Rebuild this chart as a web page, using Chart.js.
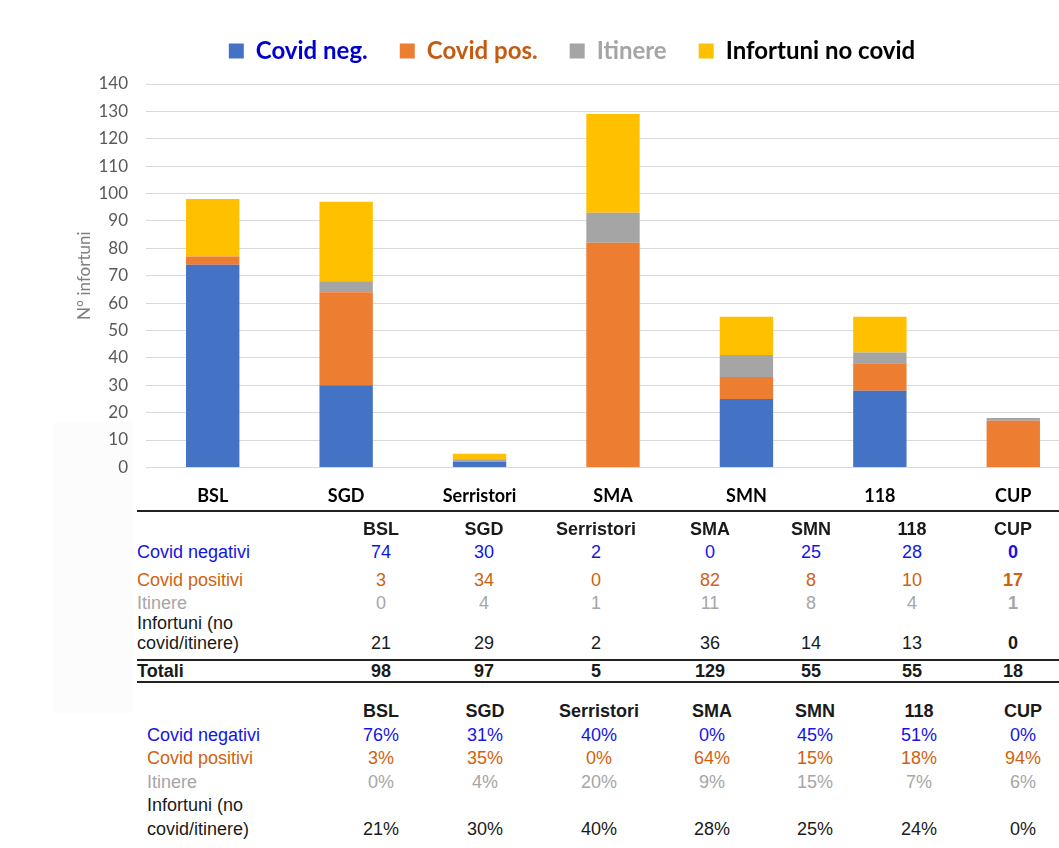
<!DOCTYPE html>
<html><head><meta charset="utf-8">
<script src="https://cdn.jsdelivr.net/npm/chart.js@4/dist/chart.umd.min.js"></script>
<style>
html,body{margin:0;padding:0;background:#fff;overflow:hidden;width:1059px;height:848px;}
#wrap{position:absolute;left:0;top:0;width:1080px;height:525px;}
#shade{position:absolute;left:54px;top:422px;width:79px;height:291px;background:#fcfcfc;}
.t{position:absolute;font-family:"Liberation Sans",Arial,sans-serif;font-size:18px;line-height:20px;white-space:nowrap;}
.c{transform:translateX(-50%);}
.b{font-weight:bold;}
.hl{position:absolute;height:2px;background:#222;}
</style></head>
<body>
<div id="shade"></div>
<div id="wrap"><canvas id="c" width="1080" height="525"></canvas></div>
<div id="tables"></div>
<script>
// ---- data ----
const categories = ['BSL','SGD','Serristori','SMA','SMN','118','CUP'];
const seriesNames = ['Covid neg.','Covid pos.','Itinere','Infortuni no covid'];
const covidNeg  = [74,30,2,0,25,28,0];
const covidPos  = [3,34,0,82,8,10,17];
const itinere   = [0,4,1,11,8,4,1];
const infortuni = [21,29,2,36,14,13,0];
const totali    = [98,97,5,129,55,55,18];
const pctNeg = ['76%','31%','40%','0%','45%','51%','0%'];
const pctPos = ['3%','35%','0%','64%','15%','18%','94%'];
const pctIt  = ['0%','4%','20%','9%','15%','7%','6%'];
const pctInf = ['21%','30%','40%','28%','25%','24%','0%'];
const yAxisTitle = 'N° infortuni';
const rowLabels = ['Covid negativi','Covid positivi','Itinere','Infortuni (no','covid/itinere)','Totali'];

// ---- styles ----
const barColors = ['#4472C4','#ED7D31','#A5A5A5','#FFC000'];
const legendColors = ['#0000CC','#C55A11','#A5A5A5','#000000'];
const tblColors = ['#1414E6','#D0620F','#A6A6A6','#1a1a1a'];

const seriesData = [covidNeg, covidPos, itinere, infortuni];

const legendGap = {
  id: 'legendGap',
  beforeInit(chart) {
    const orig = chart.legend.fit;
    chart.legend.fit = function() { orig.call(this); this.height += 11; };
  }
};

new Chart(document.getElementById('c'), {
  type: 'bar',
  data: {
    labels: categories,
    datasets: seriesData.map((d,i)=>({
      label: seriesNames[i], data: d, backgroundColor: barColors[i],
      borderWidth: 0, categoryPercentage: 1, barPercentage: 0.4, stack: 's'
    }))
  },
  plugins: [legendGap],
  options: {
    responsive: false, animation: false,
    layout: { padding: { left: 64, right: 0, top: 7, bottom: 0 } },
    plugins: {
      tooltip: { enabled: false },
      legend: {
        position: 'top',
        labels: {
          boxWidth: 15, boxHeight: 15, padding: 32,
          font: { family: 'Lato', size: 24, weight: 'bold' },
          generateLabels(chart) {
            const items = Chart.defaults.plugins.legend.labels.generateLabels(chart);
            items.forEach((it,i)=>{ it.fontColor = legendColors[i]; it.lineWidth = 0; it.strokeStyle = 'rgba(0,0,0,0)'; });
            return items;
          }
        }
      }
    },
    scales: {
      x: {
        stacked: true,
        grid: { display: false, drawTicks: false },
        border: { display: false },
        ticks: { color: '#000', padding: 18, font: { family: 'Lato', size: 18, weight: 'bold' } }
      },
      y: {
        stacked: true, min: 0, max: 140,
        grid: { color: '#d9d9d9', lineWidth: 1, drawTicks: false },
        border: { display: false },
        ticks: { stepSize: 10, color: '#595959', padding: 18, font: { family: 'Lato', size: 17 } },
        title: { display: true, text: yAxisTitle, color: '#7f7f7f', font: { family: 'Lato', size: 17 }, padding: { top: 10, bottom: 0 } },
        afterFit(s) { s.width = 82; }
      }
    }
  }
});

// ---- tables ----
const T = document.getElementById('tables');
function txt(s, x, yc, cls, color, center) {
  const d = document.createElement('div');
  d.className = 't ' + (cls||'') + (center ? ' c' : '');
  d.textContent = s;
  d.style.left = x + 'px';
  d.style.top = (yc - 10) + 'px';
  if (color) d.style.color = color;
  T.appendChild(d);
}
function hline(x, y, w) {
  const d = document.createElement('div');
  d.className = 'hl'; d.style.left = x + 'px'; d.style.top = y + 'px'; d.style.width = w + 'px';
  T.appendChild(d);
}
// table 1
const cols1 = [381,484,596,710,811,912,1013];
const rows1 = [529,552,580,603,623,643,671];
hline(137, 510, 940); hline(137, 659, 940); hline(137, 681, 940);
categories.forEach((c,i)=>txt(c, cols1[i], rows1[0], 'b', '#1a1a1a', true));
const vals1 = [covidNeg, covidPos, itinere];
vals1.forEach((arr,r)=>{
  txt(rowLabels[r], 137, rows1[r+1], '', tblColors[r]);
  arr.forEach((v,i)=>txt(String(v), cols1[i], rows1[r+1], i===6?'b':'', tblColors[r], true));
});
txt(rowLabels[3], 137, rows1[4], '', tblColors[3]);
txt(rowLabels[4], 137, rows1[5], '', tblColors[3]);
infortuni.forEach((v,i)=>txt(String(v), cols1[i], rows1[5], i===6?'b':'', tblColors[3], true));
txt(rowLabels[5], 137, rows1[6], 'b', '#1a1a1a');
totali.forEach((v,i)=>txt(String(v), cols1[i], rows1[6], 'b', '#1a1a1a', true));
// table 2
const cols2 = [381,485,599,712,815,919,1023];
const rows2 = [711,735,758,782,805,829];
categories.forEach((c,i)=>txt(c, cols2[i], rows2[0], 'b', '#1a1a1a', true));
const vals2 = [pctNeg, pctPos, pctIt];
vals2.forEach((arr,r)=>{
  txt(rowLabels[r], 147, rows2[r+1], '', tblColors[r]);
  arr.forEach((v,i)=>txt(v, cols2[i], rows2[r+1], '', tblColors[r], true));
});
txt(rowLabels[3], 147, rows2[4], '', tblColors[3]);
txt(rowLabels[4], 147, rows2[5], '', tblColors[3]);
pctInf.forEach((v,i)=>txt(v, cols2[i], rows2[5], '', tblColors[3], true));
</script>
</body></html>
